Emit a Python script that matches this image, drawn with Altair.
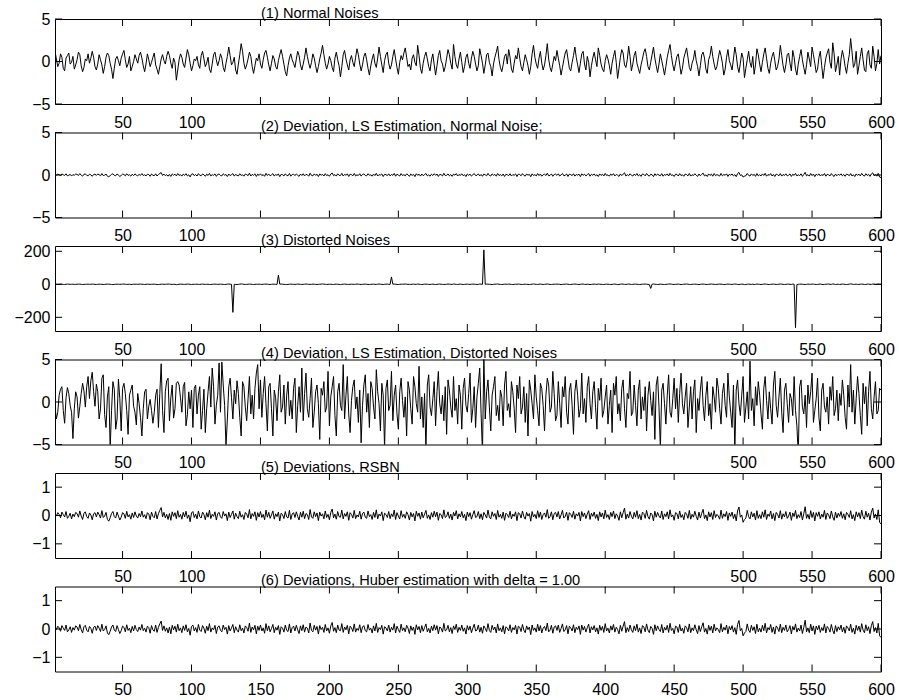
import altair as alt
import pandas as pd

N = 600
X_TICKS = [50, 100, 150, 200, 250, 300, 350, 400, 450, 500, 550, 600]

# (1) normal noise, in tenths
normal_noise_tenths = [
    12,3,-6,-2,9,5,-8,-11,4,7,10,-3,-1,6,-9,-4,2,11,8,-5,-12,-7,3,1,9,-2,4,12,5,-6,
    -10,-3,8,2,-4,-14,-6,5,10,7,-2,-9,-20,-8,3,6,1,-5,4,9,13,2,-7,-3,6,-11,-6,0,8,3,
    -2,7,11,4,-5,-12,-3,9,2,-6,-1,5,10,-4,-9,-15,-6,3,8,1,-3,6,12,7,-2,-8,4,-1,-22,-10,
    2,9,5,-3,-7,4,14,8,-2,-11,-5,3,1,6,-4,-8,7,12,3,-6,-2,5,-9,-13,-3,8,11,2,-5,1,
    9,4,-7,-12,-2,6,17,7,-4,-1,5,-10,-15,-3,8,21,12,-2,-9,-4,3,11,6,-6,-14,-5,4,1,9,-3,
    -8,2,10,13,5,-4,-11,-2,7,3,-6,-9,1,8,14,6,-3,-12,-17,-5,4,9,2,-2,-7,3,12,7,-4,-10,
    -3,5,16,6,-2,-8,-1,9,4,-5,-13,-6,3,10,19,8,-2,-9,-3,6,1,-7,-12,4,11,2,-5,-18,-6,8,
    13,3,-4,-10,2,7,-1,-6,5,15,8,-3,-11,-4,6,10,2,-8,-16,-5,3,9,-2,-7,4,17,6,-4,-13,1,
    8,11,-2,-9,-4,6,14,3,-7,-15,-1,7,2,10,16,5,-6,-3,-10,4,8,-1,-5,19,7,-8,-14,-2,6,11,
    3,-6,-11,2,9,-4,-16,-5,7,13,1,-3,-12,-6,4,14,8,-2,-9,20,6,-4,-8,3,11,-1,-13,-6,5,9,
    -2,-8,4,12,6,-3,-11,-5,15,7,-2,-14,-4,8,10,-1,-6,-17,-3,5,11,18,2,-7,-12,-4,6,9,-3,14,
    5,-9,-13,-2,7,3,16,4,-6,-11,-1,8,2,-5,-15,-6,9,19,5,-3,-8,4,12,-2,-10,-4,7,21,3,-7,
    -12,-3,6,1,13,4,-5,-16,-7,2,10,14,3,-8,-11,-1,7,17,5,-4,-13,-2,9,12,-3,-10,6,-1,-18,-5,
    4,11,2,-6,16,7,-3,-9,-12,1,8,3,-5,-15,-2,6,13,-1,-20,-8,5,14,10,-4,-7,2,18,6,-11,-3,
    7,12,-2,-8,-14,-4,3,11,15,6,-6,-10,-1,8,17,4,-5,-13,-3,9,1,-7,-16,-6,5,13,20,7,-4,-11,
    -2,6,9,-3,-15,-8,4,10,16,5,-7,-11,-2,3,13,1,-6,-17,-5,8,11,4,-9,-14,2,7,18,6,-3,-10,
    -6,4,13,7,-2,-16,-9,5,14,1,-4,-10,3,17,8,-6,-13,-2,10,4,-19,-8,2,12,-1,-7,6,-15,-4,15,
    8,-3,-12,-1,9,16,4,-8,-14,-2,6,11,1,-10,-6,3,19,7,-5,-13,-4,8,10,-2,-11,13,5,-9,-16,-3,
    6,14,2,-7,-15,-4,11,3,-6,17,8,-2,-13,-9,5,12,-5,-20,-7,4,10,15,-1,-8,22,9,-12,-4,6,-16,
    3,13,5,-6,-14,-2,8,27,11,-7,-3,12,-15,-5,6,16,2,-10,-12,9,13,-4,-8,18,6,-11,-2,14,-3,7,
]

# (4) LS deviation with distorted noises, in tenths
ls_distorted_tenths = [
    -5,-20,-12,8,15,18,-10,-25,5,17,10,-4,-12,-43,-8,12,6,-19,-5,10,22,13,-6,18,30,4,25,35,12,-5,
    21,12,-20,-8,28,32,-15,-30,6,18,-55,-10,24,15,-32,-20,27,4,-34,16,22,10,-10,-38,8,14,20,-5,-12,-27,
    10,-2,-18,-40,-8,12,15,-20,-5,3,-10,-25,-12,8,15,-30,10,45,-10,-36,12,25,28,-22,5,20,-19,-8,22,24,
    20,5,-12,18,23,-28,-15,12,-8,14,-30,16,20,-14,8,18,-32,-10,15,-36,-8,12,30,-6,40,18,-26,-4,8,46,
    -12,47,20,-4,-52,-20,18,28,5,-20,14,-2,25,10,-18,-40,24,18,-6,-22,4,30,-14,8,-20,16,34,44,-8,26,
    -18,10,30,-2,-34,18,22,-8,-40,14,5,-22,12,32,-12,-6,20,-26,8,24,-16,2,-20,16,28,-36,-4,18,-12,40,
    -22,10,34,-8,-18,4,28,-30,-12,12,20,-2,-44,16,8,24,-12,-6,36,-28,6,18,30,-16,-40,12,22,-4,-10,44,
    -20,8,30,-14,-36,2,18,26,-8,6,-24,14,-48,-4,20,32,-12,10,-30,24,16,-6,-20,38,12,-2,-34,22,8,-55,
    16,26,-10,-4,36,-22,8,20,-14,-32,12,28,2,-18,6,-40,24,14,-8,-26,30,18,-2,-12,42,-20,6,-30,10,-58,
    20,32,-6,-16,4,24,-28,12,36,-2,-14,8,-22,18,-38,26,14,-6,-18,30,-10,4,-26,20,8,-32,16,28,-4,-12,
    10,34,-24,-8,18,-30,6,22,40,-14,-60,55,-20,12,26,-6,-34,8,18,30,-16,-4,-22,14,6,-28,20,36,-10,-2,
    -18,24,12,-8,-36,20,4,30,-14,-6,18,-24,10,-40,26,14,-2,-20,32,6,-10,-28,22,16,-4,-34,8,28,20,-12,
    -6,36,10,-22,-16,24,-2,-30,18,6,30,-12,-26,14,22,-4,-38,12,26,8,-18,-8,34,-14,4,-24,18,30,-2,-20,
    12,24,-6,-32,16,2,28,-18,-10,6,20,-26,-4,14,-36,22,8,30,-14,-2,-22,16,26,-8,-30,10,4,36,-16,-12,
    20,-4,-28,14,26,-20,6,-10,18,-34,8,24,2,-16,12,-44,20,30,-6,-55,14,22,-2,-26,8,32,-12,-18,4,28,
    -8,16,-24,10,34,-2,-14,6,22,-30,-6,18,-20,12,26,-36,4,-10,14,30,-4,-22,8,24,-16,-2,-32,18,6,-12,
    28,16,-8,-26,10,22,-4,-18,34,6,-12,-30,20,-58,14,26,-2,-16,8,30,-24,-6,12,-20,48,-10,4,-28,18,-4,
    24,8,-14,-32,16,30,2,-20,12,-8,-26,20,36,-4,-18,6,28,-12,-36,14,22,-2,-24,10,4,-16,30,-10,-28,-62,
    18,26,-6,-14,8,-30,20,-2,12,34,-24,-10,4,28,-18,-34,14,22,-6,-12,6,-26,18,2,30,-16,-8,14,-22,10,
    -4,26,8,-18,-32,20,-6,44,-12,14,-26,4,30,10,-16,-38,22,-2,18,-28,12,36,-8,-20,6,24,-14,-10,16,14,
]

# (5) RSBN deviations, in hundredths
rsbn_hundredths = [
    6,-2,10,4,-8,12,3,-5,14,-10,-3,8,-12,5,-4,11,7,-6,16,-2,-14,8,13,-4,-10,9,2,-15,6,10,
    -5,12,3,-9,17,-7,-2,11,-14,-20,-8,7,14,-4,-9,12,-2,-16,-6,10,6,-10,15,-5,3,-13,9,-7,13,-2,
    -9,7,-4,16,-6,3,-11,10,5,-15,12,-3,-8,14,-12,6,18,28,-5,11,-8,4,-14,7,-17,13,-3,10,-11,17,
    -6,4,-13,11,-5,15,-10,2,-22,9,14,-7,5,-12,16,-4,-9,12,3,-15,10,-6,19,-11,4,-3,13,-16,7,11,
    -5,-10,14,-2,6,-18,12,-7,4,16,-13,8,-4,-11,15,-6,3,-14,11,5,-8,21,-12,7,-3,13,-17,10,-5,14,
    -7,4,-15,19,-6,11,-10,2,16,-13,6,-4,12,-19,8,3,-11,14,-5,-9,18,-14,5,10,-7,13,-3,-16,11,-6,
    15,-11,7,3,-14,21,-5,-10,13,-4,9,-18,12,-2,6,-12,16,-7,4,-15,11,23,-8,5,-13,14,-4,-6,19,-12,
    7,-3,13,-17,10,4,-9,18,-11,2,-5,15,-13,7,12,-6,-10,16,-4,3,-14,11,-7,20,-12,5,-2,13,-18,8,
    4,-7,14,-11,6,-4,19,-14,10,-2,-12,17,-6,4,-10,13,3,-16,11,-5,7,-19,15,-3,9,-13,12,-8,5,18,
    -10,2,-14,10,-6,15,-4,12,-17,7,3,-11,20,-7,-3,13,-10,5,-16,11,-2,17,-12,6,-5,14,-8,4,-18,12,
    -4,10,-13,3,17,-7,-4,14,-11,6,-15,11,2,-9,19,-5,-12,13,-3,7,-14,18,-6,4,-10,12,-17,8,3,-7,
    15,-12,5,-3,13,-18,10,6,-9,16,-4,-13,11,-2,7,-20,14,-5,4,-11,17,-7,12,-14,3,9,-6,21,-10,-4,
    13,-15,7,11,-5,14,-12,2,18,-9,-3,12,-17,10,4,-7,15,-13,6,-2,11,-19,14,-4,9,-11,5,17,-14,8,
    -3,12,-10,4,-18,13,-5,9,-12,19,-7,3,-14,11,-4,16,-11,6,-2,-17,13,-8,10,26,-13,5,-9,14,-3,-12,
    11,-6,17,-11,4,-16,12,7,-10,18,-4,-13,9,3,-19,15,-6,11,-2,-9,16,-14,6,-4,13,-12,20,-5,2,-17,
    10,7,-12,16,-7,3,-15,11,5,-10,18,-13,4,-6,15,-3,-16,12,-9,8,22,-11,2,-18,13,-5,10,-14,17,-7,
    4,-2,-13,19,-10,6,-4,14,-17,9,-3,12,-11,5,-19,16,30,-6,2,-24,-14,-9,18,-4,-12,13,-5,8,-16,17,
    -10,3,-11,13,-6,20,-14,5,-3,16,-12,7,-18,11,4,-9,17,-13,6,-5,14,-10,-2,12,-17,9,-4,18,-11,3,
    -7,14,-16,6,31,-10,4,-13,17,-7,11,-19,10,-3,13,-12,5,-6,18,-14,9,2,-11,16,-5,-17,12,-9,8,-3,
    14,-10,6,-15,11,4,-7,17,-12,3,-18,13,-5,10,-11,19,-4,-13,15,-6,8,-16,12,26,-9,5,-14,20,-24,-30,
]
# (2) and (6) look the same as (5) in the picture
ls_normal_hundredths = rsbn_hundredths
huber_hundredths = rsbn_hundredths

# (3) outliers added to the normal noise
outlier_pos = [130, 163, 245, 312, 433, 538]
outlier_val = [-170, 55, 45, 210, -25, -262]

TITLES = [
    "(1) Normal Noises",
    "(2) Deviation, LS Estimation, Normal Noise;",
    "(3) Distorted Noises",
    "(4) Deviation, LS Estimation, Distorted Noises",
    "(5) Deviations, RSBN",
    "(6) Deviations, Huber estimation with delta = 1.00",
]

FONT = "Liberation Sans"
W, H = 826, 85
TL = 7

normal = [v / 10 for v in normal_noise_tenths]
distorted = list(normal)
for p, o in zip(outlier_pos, outlier_val):
    distorted[p - 1] += o

series = [
    (normal, [-5, 5], [-5, 0, 5]),
    ([v / 100 for v in ls_normal_hundredths], [-5, 5], [-5, 0, 5]),
    (distorted, [-283, 232], [-200, 0, 200]),
    ([v / 10 for v in ls_distorted_tenths], [-5, 5], [-5, 0, 5]),
    ([v / 100 for v in rsbn_hundredths], [-1.5, 1.5], [-1, 0, 1]),
    ([v / 100 for v in huber_hundredths], [-1.5, 1.5], [-1, 0, 1]),
]


def panel(i, values, ydom, yticks):
    last = i == 5
    xs = alt.Scale(domain=[1, N], nice=False, zero=False)
    ys = alt.Scale(domain=ydom, nice=False, zero=False)
    lexpr = "datum.label" if last else "(datum.value <= 100 || datum.value >= 500) ? datum.label : ''"
    xaxis = alt.Axis(values=X_TICKS, labelExpr=lexpr, title=None, ticks=False, tickSize=0,
                     domain=False, grid=False, labelPadding=10, labelFlush=False,
                     labelFontSize=16, labelFont=FONT, labelColor="black", labelOverlap=False)
    yaxis = alt.Axis(values=yticks, title=None, ticks=False, tickSize=0, domain=False,
                     grid=False, labelPadding=5, labelFontSize=16, labelFont=FONT,
                     labelColor="black", labelOverlap=False)
    df = pd.DataFrame({"x": list(range(1, N + 1)), "v": values})
    xt = pd.DataFrame({"x": X_TICKS})
    yt = pd.DataFrame({"v": yticks})
    tt = pd.DataFrame({"t": [TITLES[i]]})
    X = alt.X("x:Q", scale=xs, axis=xaxis)
    Y = alt.Y("v:Q", scale=ys, axis=yaxis)
    line = alt.Chart(df).mark_line(color="black", strokeWidth=1, clip=True).encode(x=X, y=Y)
    xt_top = alt.Chart(xt).mark_rule(color="black", strokeWidth=1).encode(
        x=X, y=alt.value(0), y2=alt.value(TL))
    xt_bot = alt.Chart(xt).mark_rule(color="black", strokeWidth=1).encode(
        x=X, y=alt.value(H), y2=alt.value(H - TL))
    yt_l = alt.Chart(yt).mark_rule(color="black", strokeWidth=1).encode(
        y=Y, x=alt.value(0), x2=alt.value(TL))
    yt_r = alt.Chart(yt).mark_rule(color="black", strokeWidth=1).encode(
        y=Y, x=alt.value(W), x2=alt.value(W - TL))
    title = alt.Chart(tt).mark_text(
        align="left", baseline="alphabetic", font=FONT, fontSize=14.6, color="black"
    ).encode(text="t:N", x=alt.value(206), y=alt.value(-1.5))
    return alt.layer(line, xt_top, xt_bot, yt_l, yt_r, title).properties(width=W, height=H)


panels = [panel(i, *s) for i, s in enumerate(series)]

chart = alt.vconcat(*panels, spacing=28.5, bounds="flush").configure_view(
    stroke="black", strokeWidth=1
).properties(
    padding={"left": 13, "top": 5, "right": 0, "bottom": 0}, background="white"
)

chart.save("out.html", embed_options={"renderer": "svg", "actions": False})
